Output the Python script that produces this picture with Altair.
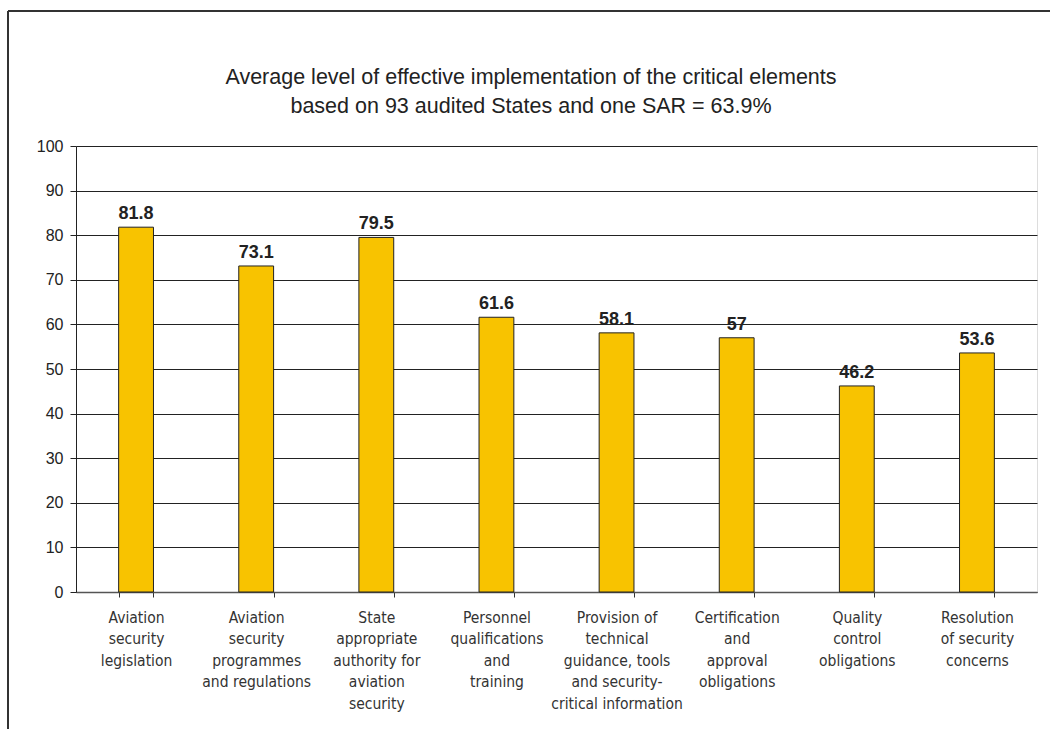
import altair as alt
import pandas as pd

categories = [
    "Aviation|security|legislation",
    "Aviation|security|programmes|and regulations",
    "State|appropriate|authority for|aviation|security",
    "Personnel|qualifications|and|training",
    "Provision of|technical|guidance, tools|and security-|critical information",
    "Certification|and|approval|obligations",
    "Quality|control|obligations",
    "Resolution|of security|concerns",
]
values = [81.8, 73.1, 79.5, 61.6, 58.1, 57, 46.2, 53.6]
labels = ["81.8", "73.1", "79.5", "61.6", "58.1", "57", "46.2", "53.6"]
y_ticks = [0, 10, 20, 30, 40, 50, 60, 70, 80, 90, 100]
title_line1 = ["Average level of effective implementation of the critical elements"]
title_line2 = ["based on 93 audited States and one SAR = 63.9%"]

NARROW = "'Liberation Sans Narrow', 'Arial Narrow', 'DejaVu Sans Condensed', 'Roboto Condensed', 'Liberation Sans', sans-serif"

df = pd.DataFrame({"cat": categories, "value": values, "label": labels})

x = alt.X(
    "cat:N",
    sort=categories,
    title=None,
    scale=alt.Scale(paddingInner=0.71, paddingOuter=0.355),
    axis=alt.Axis(
        labelExpr="split(datum.label, '|')",
        labelAngle=0,
        labelFont=NARROW,
        labelFontSize=15.5,
        labelColor="#333333",
        labelLineHeight=21.5,
        labelPadding=13,
        labelLimit=200,
        tickBand="extent",
        tickSize=5,
        tickColor="#333333",
        domainColor="#555555",
        domainWidth=1.5,
        grid=False,
    ),
)

y = alt.Y(
    "value:Q",
    title=None,
    scale=alt.Scale(domain=[0, 100], nice=False),
    axis=alt.Axis(
        values=y_ticks,
        labelFont="Liberation Sans",
        labelFontSize=16,
        labelColor="#222222",
        labelPadding=7,
        tickSize=6,
        tickColor="#222222",
        domainColor="#222222",
        gridColor="#222222",
        gridWidth=1,
        grid=True,
    ),
)

bars = alt.Chart(df).mark_bar(color="#F8C300", stroke="#222222", strokeWidth=1).encode(x=x, y=y)
text = alt.Chart(df).mark_text(
    baseline="bottom", dy=-4, font="Liberation Sans", fontSize=18, fontWeight="bold", color="#222222"
).encode(x=alt.X("cat:N", sort=categories), y="value:Q", text="label:N")

def title_text(lines, ypos):
    return alt.Chart(pd.DataFrame({"line": lines})).mark_text(
        font="Liberation Sans", fontSize=21.5, color="#222222", baseline="middle", align="center"
    ).encode(x=alt.value(455), y=alt.value(ypos), text="line:N")

t1 = title_text(title_line1, -68)
t2 = title_text(title_line2, -39)

frame_top = alt.Chart(df).mark_rule(color="#333333", strokeWidth=1.2).encode(
    x=alt.value(-68), x2=alt.value(980), y=alt.value(-135)
)
frame_left = alt.Chart(df).mark_rule(color="#333333", strokeWidth=1.2).encode(
    x=alt.value(-68), y=alt.value(-135), y2=alt.value(590)
)

chart = (
    alt.layer(frame_top, frame_left, bars, text, t1, t2)
    .properties(
        width=961,
        height=446,
        autosize=alt.AutoSizeParams(type="none"),
        padding={"left": 76, "top": 146, "right": 13, "bottom": 137},
    )
    .configure_view(stroke="#222222", strokeWidth=1)
    .configure(background="white")
)

chart.save("out.html", embed_options={"renderer": "svg", "actions": False})
